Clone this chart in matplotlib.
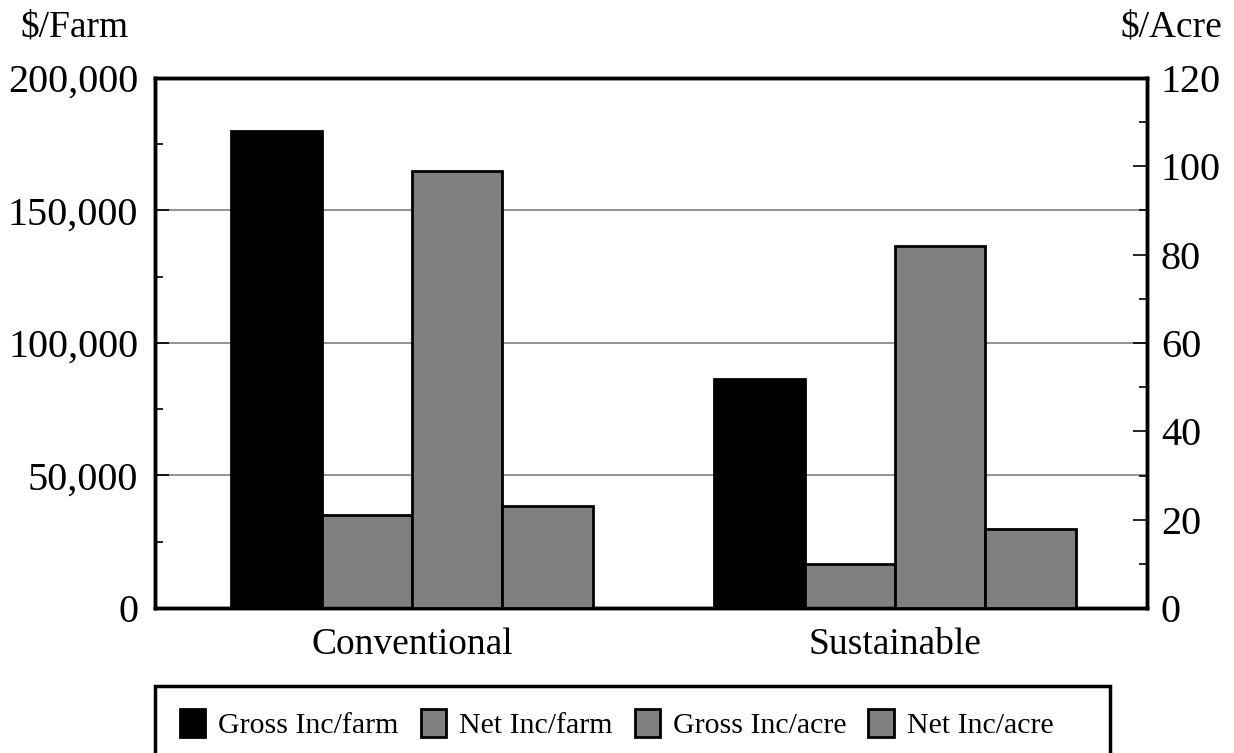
import numpy as np
import matplotlib.pyplot as plt
from matplotlib.patches import Rectangle
from matplotlib.ticker import MultipleLocator, FuncFormatter

plt.rcParams['font.family'] = ['Liberation Serif', 'DejaVu Serif']

categories = ['Conventional', 'Sustainable']
gross_farm = [180000, 86500]
net_farm = [35000, 16500]
gross_acre = [99, 82]
net_acre = [23, 18]

fig = plt.figure(figsize=(12.34, 7.53), dpi=100)
ax = fig.add_axes([155/1234, 1 - 608/753, 992/1234, 530/753])
ax2 = ax.twinx()

x = np.arange(len(categories))
w = 0.187
gray = '#808080'
kw = dict(edgecolor='black', linewidth=2, zorder=3)
b1 = ax.bar(x - 1.5*w, gross_farm, w, color='black', label='Gross Inc/farm', **kw)
b2 = ax.bar(x - 0.5*w, net_farm, w, color=gray, label='Net Inc/farm', **kw)
b3 = ax2.bar(x + 0.5*w, gross_acre, w, color=gray, label='Gross Inc/acre', **kw)
b4 = ax2.bar(x + 1.5*w, net_acre, w, color=gray, label='Net Inc/acre', **kw)

ax.set_xlim(-0.532, 1.522)
ax.set_ylim(0, 200000)
ax2.set_ylim(0, 120)
ax.yaxis.set_major_locator(MultipleLocator(50000))
ax.yaxis.set_minor_locator(MultipleLocator(25000))
ax.yaxis.set_major_formatter(FuncFormatter(lambda v, p: f'{int(v):,}'))
ax2.yaxis.set_major_locator(MultipleLocator(20))
ax2.yaxis.set_minor_locator(MultipleLocator(10))
ax.grid(axis='y', color=gray, linewidth=1.2, zorder=0)
ax.set_axisbelow(True)

ax.set_xticks(x)
ax.set_xticklabels(categories, fontsize=27)
ax.tick_params(axis='x', length=0, pad=14)
ax.tick_params(axis='y', which='major', direction='in', length=10, width=1.2, labelsize=29, pad=12)
ax.tick_params(axis='y', which='minor', direction='in', length=6, width=1.2)
ax2.tick_params(axis='y', which='major', direction='in', length=10, width=1.2, labelsize=29, pad=10)
ax2.tick_params(axis='y', which='minor', direction='in', length=6, width=1.2)
for a in (ax, ax2):
    for s in a.spines.values():
        s.set_linewidth(2.5)

fig.text(20/1234, 1 - 27/753, '$/Farm', fontsize=27, va='center', ha='left')
fig.text(1222/1234, 1 - 27/753, '$/Acre', fontsize=27, va='center', ha='right')

# legend box runs off the bottom edge, so draw the frame separately
fig.patches.append(Rectangle((155/1234, -0.05), 955/1234, 0.05 + 1 - 686/753,
                             transform=fig.transFigure, fill=False,
                             edgecolor='black', linewidth=2.5))
leg = fig.legend(handles=[b1, b2, b3, b4], ncol=4, fontsize=21.5,
                 loc='center left', bbox_to_anchor=(180/1234, 1 - 724/753),
                 borderaxespad=0, borderpad=0, frameon=False,
                 handlelength=0.85, handleheight=1.1, handletextpad=0.43,
                 columnspacing=0.74)

fig.savefig('out.png', dpi=100)
